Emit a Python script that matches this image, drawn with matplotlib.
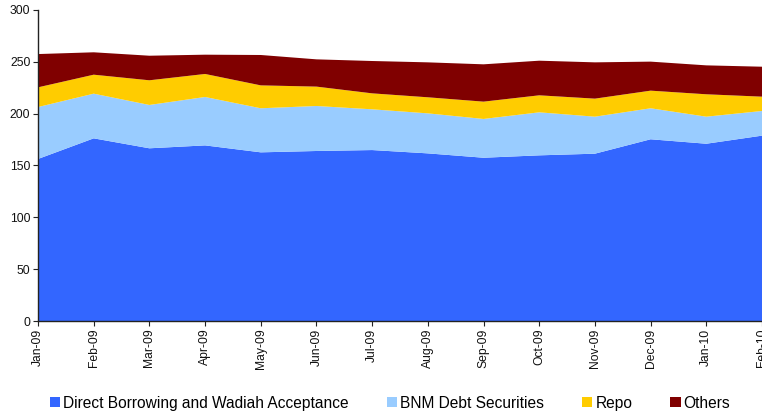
import matplotlib
matplotlib.use("Agg")
import matplotlib.pyplot as plt

plt.rcParams['font.family'] = ['Liberation Sans', 'DejaVu Sans']

months = ["Jan-09", "Feb-09", "Mar-09", "Apr-09", "May-09", "Jun-09", "Jul-09",
          "Aug-09", "Sep-09", "Oct-09", "Nov-09", "Dec-09", "Jan-10", "Feb-10"]

direct_borrowing = [156.3, 176.2, 166.6, 169.4, 162.7, 164.0, 164.9,
                    161.7, 157.5, 159.8, 161.4, 175.3, 171.0, 178.8]
bnm_debt = [50.1, 43.1, 41.8, 46.7, 42.5, 43.4, 39.3,
            38.6, 37.4, 41.5, 35.7, 29.9, 26.1, 23.8]
repo = [19.0, 18.3, 23.8, 22.2, 22.1, 18.7, 15.4,
        15.5, 16.7, 16.4, 17.4, 17.0, 21.6, 13.8]
others = [32.1, 21.6, 23.7, 18.6, 29.3, 26.3, 31.2,
          33.7, 36.0, 33.4, 35.0, 28.0, 27.9, 28.9]

series_labels = ["Direct Borrowing and Wadiah Acceptance", "BNM Debt Securities",
                 "Repo", "Others"]
colors = ["#3366FF", "#99CCFF", "#FFCC00", "#800000"]

fig = plt.figure(figsize=(7.62, 4.15), dpi=100)
ax = fig.add_axes([38 / 762, 94 / 415, 1 - 38 / 762, 311 / 415])

x = list(range(len(months)))
polys = ax.stackplot(x, direct_borrowing, bnm_debt, repo, others,
                     colors=colors, labels=series_labels, linewidth=0)

ax.set_xlim(0, len(months) - 1)
ax.set_ylim(0, 300)
ax.set_yticks([0, 50, 100, 150, 200, 250, 300])
ax.set_xticks(x)
ax.set_xticklabels(months, rotation=90, ha="center", va="top")

for side in ("top", "right"):
    ax.spines[side].set_visible(False)
for side in ("left", "bottom"):
    ax.spines[side].set_color("#222222")
    ax.spines[side].set_linewidth(1.0)

ax.tick_params(axis="both", direction="out", length=3.5, width=0.8,
               color="#222222", labelsize=8.7, labelcolor="#111111")
ax.tick_params(axis="x", pad=2)
ax.tick_params(axis="y", pad=2)

fig.legend(handles=polys, labels=series_labels, loc="center",
           bbox_to_anchor=(0.512, 1 - 403 / 415), ncol=4, frameon=False,
           fontsize=11.2, handlelength=0.65, handleheight=0.65,
           handletextpad=0.2, columnspacing=2.45, borderpad=0.2)

fig.savefig("out.png", dpi=100)
